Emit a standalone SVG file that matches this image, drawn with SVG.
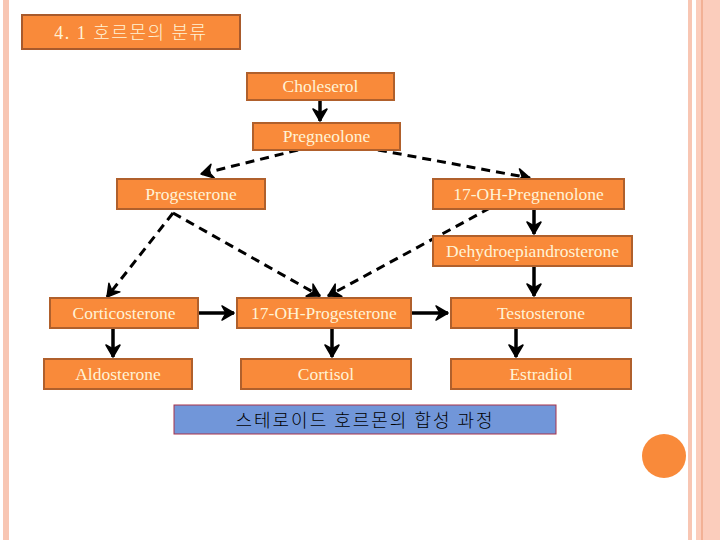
<svg xmlns="http://www.w3.org/2000/svg" width="720" height="540" viewBox="0 0 720 540">
<defs>
<style>
.box{fill:#F98A3A;stroke:#B0602C;stroke-width:2}
.lbl{font-family:"Liberation Serif","Times New Roman",serif;font-size:17.5px;fill:#FFF3D6;text-anchor:middle}
.solid{stroke:#000;stroke-width:3.5;fill:none}
.dash{stroke:#000;stroke-width:3;fill:none;stroke-dasharray:9,6}
</style>
<marker id="ah" markerUnits="userSpaceOnUse" markerWidth="18" markerHeight="18" refX="14" refY="9" orient="auto">
<path d="M2,2 L14,9 L2,16 L6,9 Z" fill="#000" stroke="#000" stroke-width="1.5" stroke-linejoin="round"/>
</marker>
</defs>
<rect width="720" height="540" fill="#fff"/>
<g id="decor">
<rect x="3" y="0" width="6" height="540" fill="#F8C6B3"/>
<rect x="688" y="0" width="4" height="540" fill="#F8C6B3"/>
<rect x="696" y="0" width="24" height="540" fill="#FBCDBC"/>
<line x1="702" y1="0" x2="702" y2="540" stroke="#E9956E" stroke-width="1"/>
<circle cx="664" cy="456" r="22" fill="#F98A3A"/>
</g>
<g id="title">
<rect x="22" y="15" width="218" height="34" fill="#F98A3A" stroke="#A85A2C" stroke-width="2"/>
<text x="131" y="39" font-family="'Liberation Serif','Noto Sans CJK KR',serif" font-size="18" letter-spacing="1.5" font-weight="300" fill="#FFF3D6" text-anchor="middle">4. 1 호르몬의 분류</text>
</g>
<g id="connectors">
<line class="solid" x1="320" y1="99" x2="320" y2="121" marker-end="url(#ah)"/>
<line class="solid" x1="534" y1="209" x2="534" y2="234" marker-end="url(#ah)"/>
<line class="solid" x1="534" y1="266" x2="534" y2="296" marker-end="url(#ah)"/>
<line class="solid" x1="113" y1="328" x2="113" y2="357" marker-end="url(#ah)"/>
<line class="solid" x1="332" y1="328" x2="332" y2="357" marker-end="url(#ah)"/>
<line class="solid" x1="516" y1="328" x2="516" y2="357" marker-end="url(#ah)"/>
<line class="solid" x1="198" y1="313" x2="234" y2="313" marker-end="url(#ah)"/>
<line class="solid" x1="411" y1="313" x2="448" y2="313" marker-end="url(#ah)"/>
<line class="dash" x1="298" y1="150" x2="201" y2="174" marker-end="url(#ah)"/>
<line class="dash" x1="378" y1="150" x2="530" y2="178" marker-end="url(#ah)"/>
<line class="dash" x1="173" y1="213" x2="107" y2="297" marker-end="url(#ah)"/>
<line class="dash" x1="173" y1="213" x2="320" y2="296" marker-end="url(#ah)"/>
<line class="dash" x1="490" y1="208" x2="328" y2="296" marker-end="url(#ah)"/>
</g>
<g id="n-choleserol"><rect class="box" x="247" y="73" width="147" height="27"/><text class="lbl" x="320.5" y="92">Choleserol</text></g>
<g id="n-pregneolone"><rect class="box" x="253" y="123" width="147" height="27"/><text class="lbl" x="326.5" y="142">Pregneolone</text></g>
<g id="n-progesterone"><rect class="box" x="117" y="179" width="148" height="30"/><text class="lbl" x="191" y="200">Progesterone</text></g>
<g id="n-17oh-pregnenolone"><rect class="box" x="433" y="179" width="191" height="30"/><text class="lbl" x="528.5" y="200">17-OH-Pregnenolone</text></g>
<g id="n-dhea"><rect class="box" x="433" y="236" width="199" height="30"/><text class="lbl" x="532.5" y="257">Dehydroepiandrosterone</text></g>
<g id="n-corticosterone"><rect class="box" x="50" y="298" width="148" height="30"/><text class="lbl" x="124" y="319">Corticosterone</text></g>
<g id="n-17oh-progesterone"><rect class="box" x="237" y="298" width="174" height="30"/><text class="lbl" x="324" y="319">17-OH-Progesterone</text></g>
<g id="n-testosterone"><rect class="box" x="451" y="298" width="180" height="30"/><text class="lbl" x="541" y="319">Testosterone</text></g>
<g id="n-aldosterone"><rect class="box" x="44" y="359" width="148" height="30"/><text class="lbl" x="118" y="380">Aldosterone</text></g>
<g id="n-cortisol"><rect class="box" x="241" y="359" width="170" height="30"/><text class="lbl" x="326" y="380">Cortisol</text></g>
<g id="n-estradiol"><rect class="box" x="451" y="359" width="180" height="30"/><text class="lbl" x="541" y="380">Estradiol</text></g>
<g id="caption">
<rect x="174" y="405" width="382" height="29" fill="#7196D9" stroke="#A8324A" stroke-width="1"/>
<text x="365" y="427" font-family="'Noto Sans CJK KR',sans-serif" font-size="18" font-weight="300" letter-spacing="2" fill="#000" text-anchor="middle">스테로이드 호르몬의 합성 과정</text>
</g>
</svg>
